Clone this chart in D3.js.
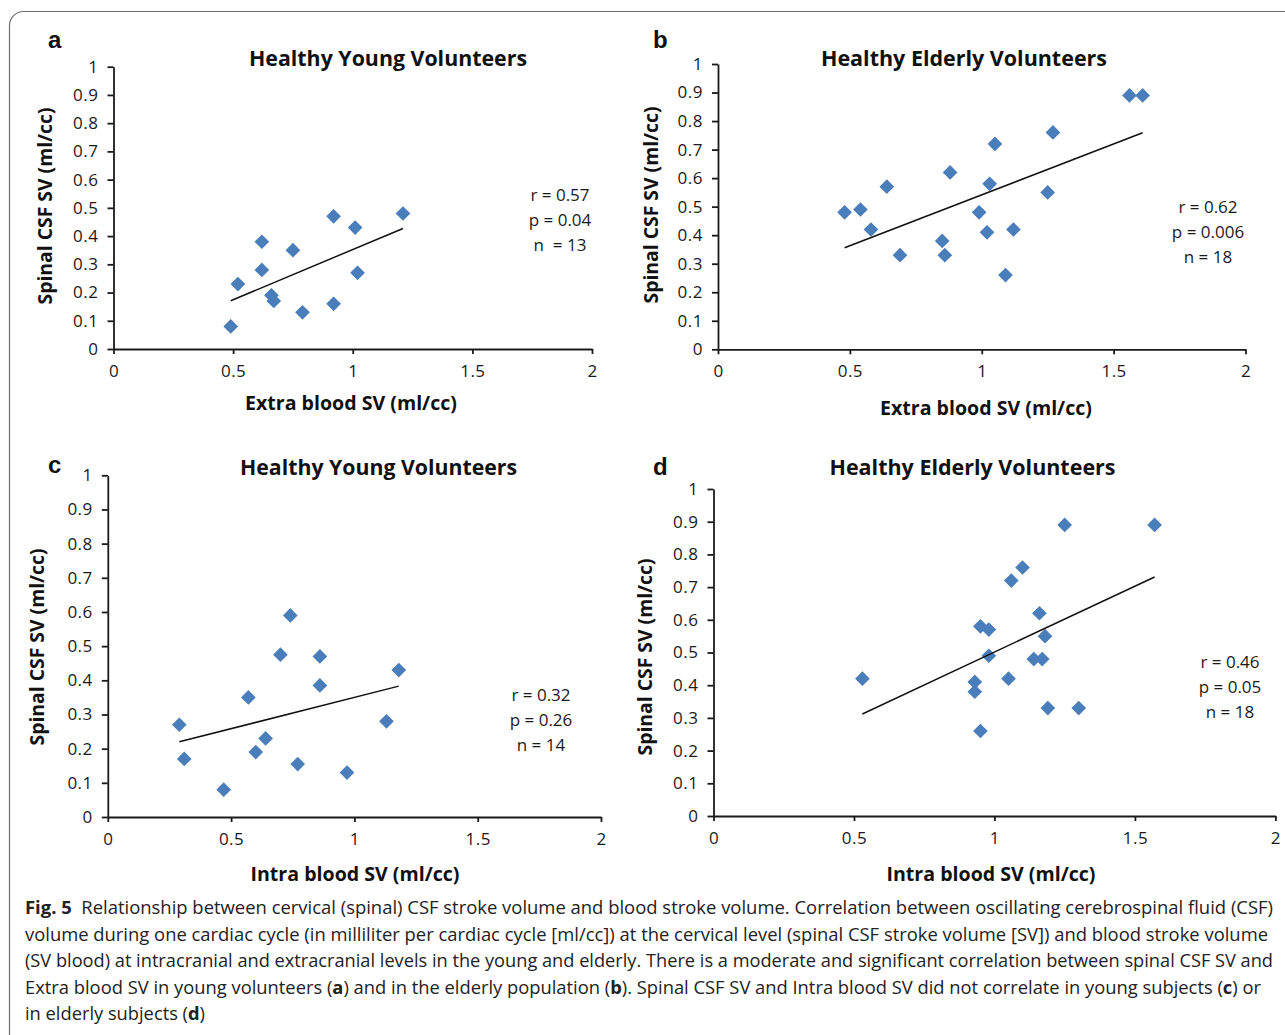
<!DOCTYPE html>
<html>
<head>
<meta charset="utf-8">
<script src="https://cdn.jsdelivr.net/npm/d3@7"></script>
<style>
  body { margin: 0; background: #fff; }
  svg { display: block; }
  text { font-family: "Open Sans", "Noto Sans", sans-serif; white-space: pre; }
</style>
</head>
<body>
<div id="chart"></div>
<script>
// Tick values shared by all four panels
const xTicks = [0, 0.5, 1, 1.5, 2];
const yTicks = [0, 0.1, 0.2, 0.3, 0.4, 0.5, 0.6, 0.7, 0.8, 0.9, 1];

// (a) young volunteers, extra blood SV vs spinal CSF SV
const youngExtraX = [0.49, 0.52, 0.62, 0.62, 0.66, 0.67, 0.75, 0.79, 0.92, 0.92, 1.01, 1.02, 1.21];
const youngExtraY = [0.08, 0.23, 0.38, 0.28, 0.19, 0.17, 0.35, 0.13, 0.47, 0.16, 0.43, 0.27, 0.48];
const youngExtraFitX = [0.49, 1.21];
const youngExtraFitY = [0.171, 0.427];
const youngExtraStats = ["r = 0.57", "p = 0.04", "n  = 13"];

// (b) elderly volunteers, extra blood SV vs spinal CSF SV
const elderlyExtraX = [0.48, 0.54, 0.58, 0.64, 0.69, 0.85, 0.86, 0.88, 0.99, 1.02, 1.03, 1.05, 1.09, 1.12, 1.25, 1.27, 1.56, 1.61];
const elderlyExtraY = [0.48, 0.49, 0.42, 0.57, 0.33, 0.38, 0.33, 0.62, 0.48, 0.41, 0.58, 0.72, 0.26, 0.42, 0.55, 0.76, 0.89, 0.89];
const elderlyExtraFitX = [0.48, 1.61];
const elderlyExtraFitY = [0.356, 0.759];
const elderlyExtraStats = ["r = 0.62", "p = 0.006", "n = 18"];

// (c) young volunteers, intra blood SV vs spinal CSF SV
const youngIntraX = [0.29, 0.31, 0.47, 0.57, 0.60, 0.64, 0.70, 0.74, 0.77, 0.86, 0.86, 0.97, 1.13, 1.18];
const youngIntraY = [0.27, 0.17, 0.08, 0.35, 0.19, 0.23, 0.475, 0.59, 0.155, 0.385, 0.47, 0.13, 0.28, 0.43];
const youngIntraFitX = [0.29, 1.18];
const youngIntraFitY = [0.220, 0.383];
const youngIntraStats = ["r = 0.32", "p = 0.26", "n = 14"];

// (d) elderly volunteers, intra blood SV vs spinal CSF SV
const elderlyIntraX = [0.53, 0.93, 0.93, 0.95, 0.95, 0.98, 0.98, 1.05, 1.06, 1.10, 1.14, 1.16, 1.17, 1.18, 1.19, 1.25, 1.30, 1.57];
const elderlyIntraY = [0.42, 0.38, 0.41, 0.26, 0.58, 0.49, 0.57, 0.42, 0.72, 0.76, 0.48, 0.62, 0.48, 0.55, 0.33, 0.89, 0.33, 0.89];
const elderlyIntraFitX = [0.53, 1.57];
const elderlyIntraFitY = [0.312, 0.731];
const elderlyIntraStats = ["r = 0.46", "p = 0.05", "n = 18"];

const panels = [
  { letter: "a", lx: 48, ly: 48, title: "Healthy Young Volunteers", tx: 388, ty: 58, tw: 278,
    xLabel: "Extra blood SV (ml/cc)", xlx: 351, xly: 404, xlw: 212, ylx: 46, yly: 206,
    xs: youngExtraX, ys: youngExtraY, fx: youngExtraFitX, fy: youngExtraFitY,
    stats: youngExtraStats, sx: 560, sy: 195,
    left: 113.5, right: 592, top: 66.7, bottom: 349 },
  { letter: "b", lx: 653, ly: 48, title: "Healthy Elderly Volunteers", tx: 964, ty: 58, tw: 286,
    xLabel: "Extra blood SV (ml/cc)", xlx: 986, xly: 409, xlw: 212, ylx: 651.5, yly: 205,
    xs: elderlyExtraX, ys: elderlyExtraY, fx: elderlyExtraFitX, fy: elderlyExtraFitY,
    stats: elderlyExtraStats, sx: 1208, sy: 207,
    left: 718, right: 1245.5, top: 64, bottom: 349.3 },
  { letter: "c", lx: 48, ly: 473, title: "Healthy Young Volunteers", tx: 378.5, ty: 467, tw: 277,
    xLabel: "Intra blood SV (ml/cc)", xlx: 355, xly: 875, xlw: 209, ylx: 37.5, yly: 647,
    xs: youngIntraX, ys: youngIntraY, fx: youngIntraFitX, fy: youngIntraFitY,
    stats: youngIntraStats, sx: 541, sy: 695,
    left: 107.8, right: 601, top: 475.3, bottom: 817 },
  { letter: "d", lx: 653, ly: 475, title: "Healthy Elderly Volunteers", tx: 972.5, ty: 467, tw: 286,
    xLabel: "Intra blood SV (ml/cc)", xlx: 991, xly: 875, xlw: 209, ylx: 646, yly: 657,
    xs: elderlyIntraX, ys: elderlyIntraY, fx: elderlyIntraFitX, fy: elderlyIntraFitY,
    stats: elderlyIntraStats, sx: 1230, sy: 662,
    left: 713.5, right: 1275.4, top: 489, bottom: 816 }
];

const svg = d3.select("#chart")
  .append("svg")
  .attr("width", 1285)
  .attr("height", 1035);

// Rounded frame (runs off the right and bottom edge)
svg.append("rect")
  .attr("x", 9.5).attr("y", 11.5)
  .attr("width", 1320).attr("height", 1070)
  .attr("rx", 14)
  .attr("fill", "none")
  .attr("stroke", "#6e6e6e")
  .attr("stroke-width", 1.2);

panels.forEach(p => {
  const x = d3.scaleLinear().domain([0, 2]).range([p.left, p.right]);
  const y = d3.scaleLinear().domain([0, 1]).range([p.bottom, p.top]);
  const g = svg.append("g");

  // Axes
  const xAxis = g.append("g")
    .attr("transform", `translate(0,${p.bottom})`)
    .call(d3.axisBottom(x).tickValues(xTicks).tickFormat(d => String(d))
      .tickSizeInner(5).tickSizeOuter(0).tickPadding(11));
  const yAxis = g.append("g")
    .attr("transform", `translate(${p.left},0)`)
    .call(d3.axisLeft(y).tickValues(yTicks).tickFormat(d => String(d))
      .tickSizeInner(6).tickSizeOuter(0).tickPadding(9));

  [xAxis, yAxis].forEach(a => {
    a.attr("font-family", null).attr("font-size", null);
    a.selectAll("path, line").attr("stroke", "#1a1a1a").attr("stroke-width", 1.8);
    a.selectAll("text")
      .attr("fill", "#1a1a1a")
      .style("font-size", "17px")
      .style("letter-spacing", "0.5px");
  });

  // Points
  g.selectAll(".pt")
    .data(d3.zip(p.xs, p.ys))
    .join("path")
    .attr("class", "pt")
    .attr("d", d3.symbol(d3.symbolSquare, 108))
    .attr("transform", d => `translate(${x(d[0])},${y(d[1])}) rotate(45)`)
    .attr("fill", "#4a7ebb");

  // Trend line
  g.append("path")
    .datum(d3.zip(p.fx, p.fy))
    .attr("d", d3.line().x(d => x(d[0])).y(d => y(d[1])))
    .attr("fill", "none")
    .attr("stroke", "#111")
    .attr("stroke-width", 1.5);

  // Panel letter and title
  g.append("text")
    .attr("x", p.lx).attr("y", p.ly)
    .style("font-family", "'Liberation Sans', Arial, sans-serif")
    .style("font-weight", "bold")
    .style("font-size", "24px")
    .attr("fill", "#111")
    .text(p.letter);

  g.append("text")
    .attr("x", p.tx - p.tw / 2).attr("y", p.ty)
    .attr("dy", "0.36em")
    .attr("textLength", p.tw)
    .attr("lengthAdjust", "spacingAndGlyphs")
    .style("font-weight", "bold")
    .style("font-size", "22px")
    .attr("fill", "#111")
    .text(p.title);

  // Axis labels
  g.append("text")
    .attr("x", p.xlx - p.xlw / 2).attr("y", p.xly)
    .attr("dy", "0.32em")
    .attr("textLength", p.xlw)
    .attr("lengthAdjust", "spacingAndGlyphs")
    .style("font-weight", "bold")
    .style("font-size", "19px")
    .attr("fill", "#111")
    .text(p.xLabel);

  g.append("text")
    .attr("transform", `translate(${p.ylx},${p.yly}) rotate(-90)`)
    .attr("x", -98.5)
    .attr("dy", "0.32em")
    .attr("textLength", 197)
    .attr("lengthAdjust", "spacingAndGlyphs")
    .style("font-weight", "bold")
    .style("font-size", "19px")
    .attr("fill", "#111")
    .text("Spinal CSF SV (ml/cc)");

  // r / p / n annotation
  g.selectAll(".stat")
    .data(p.stats)
    .join("text")
    .attr("class", "stat")
    .attr("x", p.sx)
    .attr("y", (d, i) => p.sy + i * 25)
    .attr("dy", "0.36em")
    .attr("text-anchor", "middle")
    .style("font-size", "17px")
    .attr("fill", "#1a1a1a")
    .text(d => d);
});

// Caption
const captionLines = [
  { y: 914, w: 1248, parts: [["Fig. 5", true], ["  Relationship between cervical (spinal) CSF stroke volume and blood stroke volume. Correlation between oscillating cerebrospinal fluid (CSF)", false]] },
  { y: 940.5, w: 1243, parts: [["volume during one cardiac cycle (in milliliter per cardiac cycle [ml/cc]) at the cervical level (spinal CSF stroke volume [SV]) and blood stroke volume", false]] },
  { y: 967, w: 1248, parts: [["(SV blood) at intracranial and extracranial levels in the young and elderly. There is a moderate and significant correlation between spinal CSF SV and", false]] },
  { y: 993.5, w: 1236, parts: [["Extra blood SV in young volunteers (", false], ["a", true], [") and in the elderly population (", false], ["b", true], ["). Spinal CSF SV and Intra blood SV did not correlate in young subjects (", false], ["c", true], [") or", false]] },
  { y: 1020, w: 180, parts: [["in elderly subjects (", false], ["d", true], [")", false]] }
];

captionLines.forEach(line => {
  const t = svg.append("text")
    .attr("x", 25).attr("y", line.y)
    .attr("textLength", line.w)
    .attr("lengthAdjust", "spacingAndGlyphs")
    .style("font-size", "17.5px")
    .attr("fill", "#222");
  line.parts.forEach(([s, bold]) => {
    t.append("tspan").style("font-weight", bold ? "bold" : "normal").text(s);
  });
});
</script>
</body>
</html>
